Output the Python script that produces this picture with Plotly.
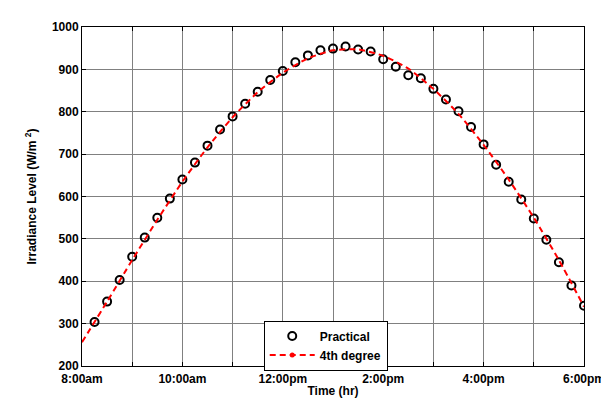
import plotly.graph_objects as go

# Practical measurements every 15 minutes (hours, 24h clock)
practical_time = [8.25, 8.5, 8.75, 9.0, 9.25, 9.5, 9.75, 10.0, 10.25, 10.5,
                  10.75, 11.0, 11.25, 11.5, 11.75, 12.0, 12.25, 12.5, 12.75, 13.0,
                  13.25, 13.5, 13.75, 14.0, 14.25, 14.5, 14.75, 15.0, 15.25, 15.5,
                  15.75, 16.0, 16.25, 16.5, 16.75, 17.0, 17.25, 17.5, 17.75, 18.0]
practical_irr = [304, 352, 403, 458, 503, 550, 595, 640, 680, 720,
                 758, 789, 819, 847, 875, 896, 917, 933, 945, 949,
                 954, 947, 942, 924, 906, 886, 879, 854, 829, 801,
                 764, 723, 675, 635, 593, 548, 498, 445, 390, 342]

# 4th degree fit curve
fit_time = [8.0, 8.5, 9.0, 9.5, 10.0, 10.5, 11.0, 11.5, 12.0, 12.5, 13.0,
            13.5, 14.0, 14.5, 15.0, 15.5, 16.0, 16.5, 17.0, 17.5, 18.0]
fit_irr = [256, 352, 450, 545, 635, 716, 787, 846, 892, 926, 945,
           947, 932, 902, 854, 795, 722, 640, 550, 450, 340]

x_tick_vals = [8, 10, 12, 14, 16, 18]
x_tick_text = ["8:00am", "10:00am", "12:00pm", "2:00pm", "4:00pm", "6:00pm"]
y_ticks = [200, 300, 400, 500, 600, 700, 800, 900, 1000]

FONT = "Liberation Sans, Arial, sans-serif"

fig = go.Figure()
fig.add_trace(go.Scatter(
    x=practical_time, y=practical_irr, mode="markers", name="<b>Practical</b>",
    marker=dict(symbol="circle-open", size=8, color="black", line=dict(width=2, color="black")),
))
fig.add_trace(go.Scatter(
    x=fit_time, y=fit_irr, mode="lines", name="<b>4th degree</b>", showlegend=False,
    line=dict(color="#ff0000", width=2, dash="6px,4px", shape="spline", smoothing=0.6),
))
# legend entry for the fit (line with dot marker)
fig.add_trace(go.Scatter(
    x=[None], y=[None], mode="lines+markers", name="<b>4th degree</b>",
    line=dict(color="#ff0000", width=2, dash="6px,4px"),
    marker=dict(symbol="circle", size=5, color="#ff0000"),
))

axis_common = dict(
    showline=True, linecolor="black", linewidth=1, mirror="ticks",
    ticks="inside", ticklen=4, tickcolor="black", tickwidth=1,
    showgrid=True, gridcolor="#808080", gridwidth=1, zeroline=False,
    tickfont=dict(family=FONT, size=12, color="black", weight="bold"),
)

fig.update_xaxes(
    range=[8, 18], tickmode="array", tickvals=x_tick_vals, ticktext=x_tick_text,
    minor=dict(dtick=1, tick0=8, showgrid=True, gridcolor="#808080", gridwidth=1,
               ticks="inside", ticklen=4, tickcolor="black"),
    ticklabelstandoff=2,
    title=dict(text="<b>Time (hr)</b>", font=dict(family=FONT, size=12, color="black"), standoff=1),
    **axis_common,
)
fig.update_yaxes(
    range=[200, 1000], tickmode="array", tickvals=y_ticks,
    title=dict(text="<b>Irradiance Level (W/m <sup>2</sup>)</b>", font=dict(family=FONT, size=12, color="black"), standoff=12),
    **axis_common,
)

fig.update_layout(
    width=609, height=400,
    margin=dict(l=74, r=29, t=16, b=32),
    paper_bgcolor="white", plot_bgcolor="white",
    font=dict(family=FONT, size=12, color="black"),
    legend=dict(
        x=0.362, y=0.134, xanchor="left", yanchor="top",
        bgcolor="white", bordercolor="black", borderwidth=1,
        font=dict(family=FONT, size=12, color="black"),
        itemwidth=45, tracegroupgap=0,
    ),
)

fig.write_html("out.html")
